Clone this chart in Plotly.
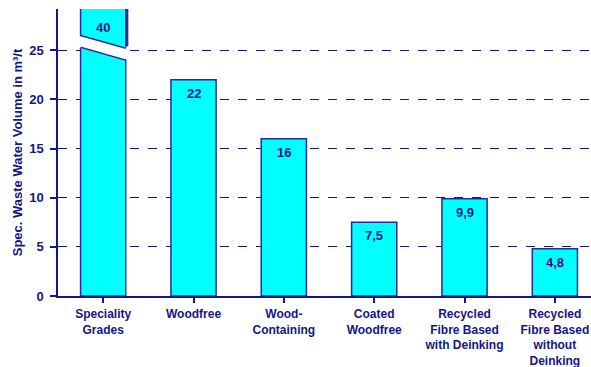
import plotly.graph_objects as go

categories = ["Speciality<br>Grades", "Woodfree", "Wood-<br>Containing", "Coated<br>Woodfree",
              "Recycled<br>Fibre Based<br>with Deinking", "Recycled<br>Fibre Based<br>without<br>Deinking"]
values = [40, 22, 16, 7.5, 9.9, 4.8]
labels = ["40", "22", "16", "7,5", "9,9", "4,8"]
y_ticks = [0, 5, 10, 15, 20, 25]

NAVY = "#14148c"
EDGE = "#2a2a9a"
Y_TOP = 29.2
FONT = "Liberation Sans, Arial"

x_idx = list(range(len(categories)))

fig = go.Figure()
fig.add_trace(go.Bar(
    x=x_idx, y=values, width=0.5,
    marker=dict(color="#00ffff", line=dict(color=EDGE, width=1.5)),
    cliponaxis=True,
))

shapes = []
annotations = []
for i, (v, t) in enumerate(zip(values, labels)):
    if v > Y_TOP:
        xl, xr = i - 0.25, i + 0.25
        shapes.append(dict(type="path", xref="x", yref="y",
                           path=f"M {xl-0.03},26.5 L {xr+0.03},25.2 L {xr+0.03},24.0 L {xl-0.03},25.3 Z",
                           fillcolor="white", line=dict(width=0), layer="above"))
        shapes.append(dict(type="line", xref="x", yref="y", x0=xl, y0=26.5, x1=xr, y1=25.2,
                           line=dict(color=EDGE, width=1.5), layer="above"))
        shapes.append(dict(type="line", xref="x", yref="y", x0=xl, y0=25.3, x1=xr, y1=24.0,
                           line=dict(color=EDGE, width=1.5), layer="above"))
        shapes.append(dict(type="line", xref="x", yref="y", x0=xr + 0.015, y0=Y_TOP, x1=xr + 0.015, y1=25.4,
                           line=dict(color=EDGE, width=2.5), layer="above"))
        annotations.append(dict(x=i, y=27.3, xref="x", yref="y", text=t, showarrow=False,
                                font=dict(family=FONT, size=13, color=NAVY, weight="bold")))
    else:
        annotations.append(dict(x=i, y=v, xref="x", yref="y", text=t, showarrow=False,
                                yanchor="top", yshift=-4,
                                font=dict(family=FONT, size=13, color=NAVY, weight="bold")))

fig.update_layout(
    width=591, height=367,
    margin=dict(l=58, r=0, t=9, b=71),
    paper_bgcolor="white", plot_bgcolor="white",
    showlegend=False,
    shapes=shapes, annotations=annotations,
    font=dict(family=FONT, color=NAVY),
    xaxis=dict(
        tickmode="array", tickvals=x_idx, ticktext=categories,
        range=[-0.5, 5.4], tickson="boundaries",
        ticks="outside", ticklen=5, tickcolor=NAVY, tickwidth=1.5,
        showline=True, linecolor=NAVY, linewidth=1.5,
        showgrid=False, zeroline=False, automargin=False,
        tickfont=dict(size=12, color=NAVY, weight="bold"),
        ticklabelstandoff=1,
    ),
    yaxis=dict(
        range=[0, Y_TOP], tickvals=y_ticks,
        ticks="outside", ticklen=6, tickcolor=NAVY, tickwidth=1.5,
        showline=True, linecolor=NAVY, linewidth=1.5,
        showgrid=True, gridcolor=NAVY, griddash="dash", gridwidth=1,
        zeroline=False, automargin=False,
        tickfont=dict(size=13, color=NAVY, weight="bold"),
        ticklabelstandoff=4,
        title=dict(text="Spec. Waste Water Volume in m³/t", standoff=4,
                   font=dict(size=13, color=NAVY, weight="bold")),
    ),
)

fig.write_html("out.html")
